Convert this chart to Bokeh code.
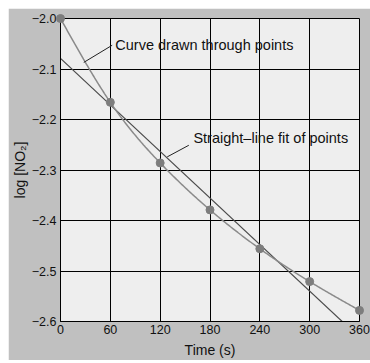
import numpy as np
from bokeh.plotting import figure
from bokeh.models import Range1d, FixedTicker, CustomJSTickFormatter, Label
from bokeh.embed import file_html
from bokeh.resources import INLINE

# ---- data ----
time_s = [0, 60, 120, 180, 240, 300, 360]
log_no2 = [-2.000, -2.166, -2.286, -2.379, -2.456, -2.521, -2.578]
fit_intercept = -2.079
fit_slope = -0.001536
x_ticks = [0, 60, 120, 180, 240, 300, 360]
y_ticks = [-2.6, -2.5, -2.4, -2.3, -2.2, -2.1, -2.0]

FONT = "Liberation Sans"

def natural_spline(x, y, n=300):
    x = np.asarray(x, float)
    y = np.asarray(y, float)
    h = np.diff(x)
    m = len(x)
    A = np.zeros((m, m))
    r = np.zeros(m)
    A[0, 0] = 1.0
    A[-1, -1] = 1.0
    for i in range(1, m - 1):
        A[i, i - 1] = h[i - 1]
        A[i, i] = 2 * (h[i - 1] + h[i])
        A[i, i + 1] = h[i]
        r[i] = 6 * ((y[i + 1] - y[i]) / h[i] - (y[i] - y[i - 1]) / h[i - 1])
    M = np.linalg.solve(A, r)
    xs = np.linspace(x[0], x[-1], n)
    idx = np.clip(np.searchsorted(x, xs) - 1, 0, m - 2)
    x0, x1 = x[idx], x[idx + 1]
    hh = x1 - x0
    a = (x1 - xs) / hh
    b = (xs - x0) / hh
    ys = (a * y[idx] + b * y[idx + 1]
          + ((a ** 3 - a) * M[idx] + (b ** 3 - b) * M[idx + 1]) * hh ** 2 / 6)
    return xs, ys

p = figure(width=362, height=352, output_backend="svg", toolbar_location=None,
           x_range=Range1d(x_ticks[0], x_ticks[-1]),
           y_range=Range1d(y_ticks[0], y_ticks[-1]),
           min_border_left=52, min_border_right=11, min_border_top=10,
           min_border_bottom=37)
p.margin = (8, 0, 0, 8)
p.background_fill_color = "#eeeeee"
p.border_fill_color = "#c0c0c0"
p.outline_line_color = "black"
p.outline_line_width = 1

fmt = CustomJSTickFormatter(code="return tick.toFixed(1).replace('-', '\u2212');")
p.yaxis.formatter = fmt
p.xaxis.ticker = FixedTicker(ticks=x_ticks)
p.yaxis.ticker = FixedTicker(ticks=y_ticks)
for ax in (p.xaxis[0], p.yaxis[0]):
    ax.major_tick_in = 0
    ax.major_tick_out = 0
    ax.minor_tick_in = 0
    ax.minor_tick_out = 0
    ax.axis_line_color = "black"
    ax.major_label_text_font = FONT
    ax.major_label_text_font_size = "12.5px"
    ax.major_label_text_color = "#111111"
    ax.axis_label_text_font = FONT
    ax.axis_label_text_font_size = "14px"
    ax.axis_label_text_font_style = "normal"
    ax.axis_label_text_color = "#111111"

p.xaxis.axis_label = "Time (s)"
p.yaxis.axis_label = "log [NO\u2082]"
p.xaxis.major_label_standoff = 3
p.xaxis.axis_label_standoff = 5
p.yaxis.major_label_standoff = 4
p.yaxis.axis_label_standoff = 1

for g in (p.xgrid[0], p.ygrid[0]):
    g.grid_line_color = "black"
    g.grid_line_width = 1
    g.grid_line_alpha = 1
p.xgrid.ticker = FixedTicker(ticks=x_ticks)
p.ygrid.ticker = FixedTicker(ticks=y_ticks)

# straight-line fit
fx = np.array([x_ticks[0], x_ticks[-1]], float)
p.line(fx, fit_intercept + fit_slope * fx, line_color="#4a4a4a", line_width=1.2)

# smooth curve through points
cx, cy = natural_spline(time_s, log_no2)
p.line(cx, cy, line_color="#8a8a8a", line_width=1.5)

# points
p.scatter(time_s, log_no2, size=8, color="#7d7d7d", level="overlay")

# annotations with leader lines
p.segment(x0=[62.2, 154.5], y0=[-2.053, -2.251], x1=[28.0, 128.5], y1=[-2.087, -2.274],
          line_color="#222222", line_width=1)
p.add_layout(Label(x=66, y=-2.052, text="Curve drawn through points",
                   text_font=FONT, text_font_size="14.5px", text_color="#111111",
                   text_baseline="middle"))
p.add_layout(Label(x=160, y=-2.237, text="Straight\u2013line fit of points",
                   text_font=FONT, text_font_size="14.5px", text_color="#111111",
                   text_baseline="middle"))

open("out.html", "w").write(file_html(p, INLINE))
